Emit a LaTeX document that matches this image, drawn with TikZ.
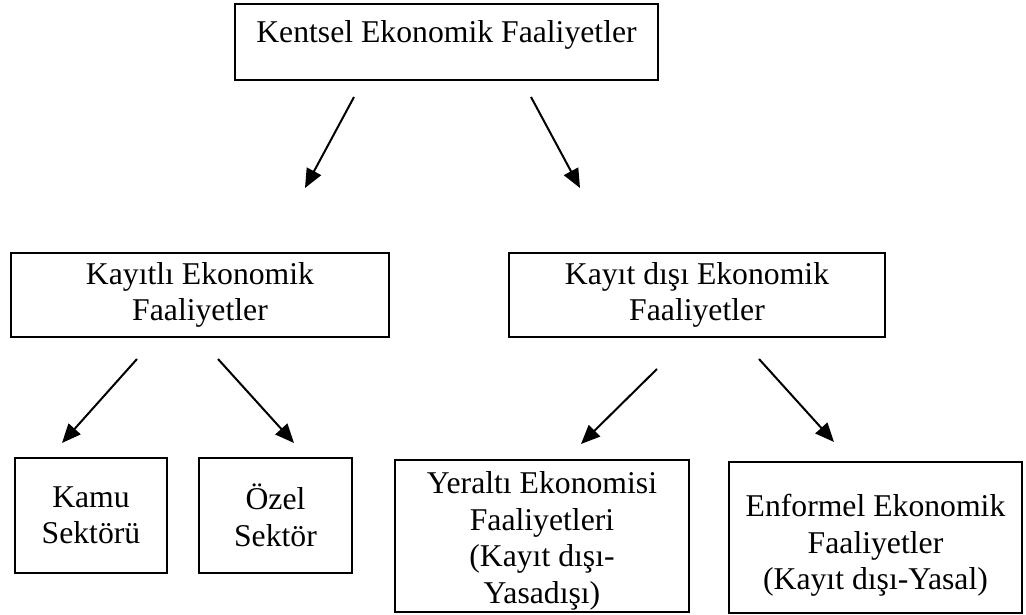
\documentclass[tikz,border=0pt]{standalone}
\usepackage{fontspec}
\setmainfont{Liberation Serif}
\usetikzlibrary{arrows.meta}
\begin{document}
\begin{tikzpicture}[x=1pt,y=-1pt,
  box/.style={draw, line width=2pt, inner sep=0pt, align=center, font=\fontsize{31.7}{36.5}\selectfont},
  arr/.style={line width=2pt, -{Triangle[length=19pt,width=16pt]}}]
\useasboundingbox (0,0) rectangle (1026,615);
\node[box, minimum width=423pt, text height=39pt, text depth=37pt, anchor=base] (top) at (446.5,43) {Kentsel Ekonomik Faaliyetler};
\node[box, minimum width=378pt, minimum height=84pt] (kayitli) at (200,295) {Kayıtlı Ekonomik\\Faaliyetler};
\node[box, minimum width=376pt, minimum height=84pt] (kayitdisi) at (697,295) {Kayıt dışı Ekonomik\\Faaliyetler};
\node[box, minimum width=152pt, minimum height=115pt] (kamu) at (91,515.5) {Kamu\\Sektörü};
\node[box, minimum width=152.5pt, minimum height=115pt] (ozel) at (275.5,515.5) {Özel\\Sektör};
\node[box, minimum width=294pt, minimum height=152pt] (yeralti) at (542,536) {\rule{0pt}{32pt}Yeraltı Ekonomisi\\Faaliyetleri\\(Kayıt dışı-\\Yasadışı)};
\node[box, minimum width=293pt, minimum height=151pt] (enformel) at (875.5,537.5) {\rule{0pt}{38pt}Enformel Ekonomik\\Faaliyetler\\(Kayıt dışı-Yasal)};
\coordinate (a1s) at (354,97);  \coordinate (a1e) at (305,188);
\coordinate (a2s) at (531,97);  \coordinate (a2e) at (580,188);
\coordinate (b1s) at (137,359); \coordinate (b1e) at (62,443);
\coordinate (b2s) at (218,359); \coordinate (b2e) at (294,443);
\coordinate (c1s) at (657,369); \coordinate (c1e) at (581,444);
\coordinate (c2s) at (759,359); \coordinate (c2e) at (834,442);
\draw[arr] (a1s) -- (a1e);
\draw[arr] (a2s) -- (a2e);
\draw[arr] (b1s) -- (b1e);
\draw[arr] (b2s) -- (b2e);
\draw[arr] (c1s) -- (c1e);
\draw[arr] (c2s) -- (c2e);
\end{tikzpicture}
\end{document}
